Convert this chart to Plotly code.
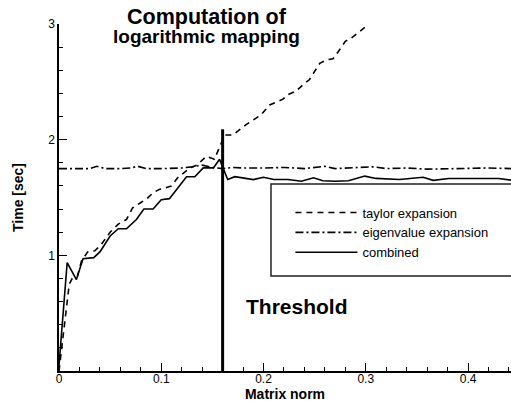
import plotly.graph_objects as go

# ---- data ----
taylor_x = [0, 0.010, 0.013, 0.018, 0.022, 0.028, 0.035, 0.041, 0.050, 0.058, 0.066, 0.072,
            0.079, 0.086, 0.092, 0.098, 0.103, 0.110, 0.116, 0.122, 0.128, 0.135, 0.144,
            0.152, 0.158, 0.162, 0.170, 0.178, 0.183, 0.190, 0.197, 0.206, 0.211, 0.219,
            0.224, 0.232, 0.238, 0.245, 0.250, 0.255, 0.262, 0.268, 0.273, 0.280, 0.286,
            0.292, 0.299]
taylor_y = [0.0, 0.75, 0.80, 0.82, 0.95, 1.03, 1.04, 1.09, 1.20, 1.27, 1.31, 1.41,
            1.45, 1.49, 1.54, 1.57, 1.58, 1.60, 1.67, 1.71, 1.756, 1.78, 1.856,
            1.83, 1.96, 2.04, 2.04, 2.10, 2.13, 2.17, 2.21, 2.30, 2.32, 2.35,
            2.39, 2.42, 2.47, 2.52, 2.59, 2.66, 2.69, 2.70, 2.76, 2.85, 2.88,
            2.92, 2.97]

eigen_x = [0, 0.010, 0.020, 0.030, 0.037, 0.045, 0.060, 0.070, 0.077, 0.085, 0.100, 0.110,
           0.120, 0.130, 0.140, 0.150, 0.160, 0.170, 0.180, 0.200, 0.220, 0.240, 0.260,
           0.270, 0.290, 0.307, 0.320, 0.340, 0.360, 0.380, 0.400, 0.420, 0.442]
eigen_y = [1.75, 1.75, 1.755, 1.75, 1.77, 1.75, 1.75, 1.755, 1.77, 1.75, 1.75, 1.75,
           1.755, 1.765, 1.78, 1.76, 1.75, 1.76, 1.755, 1.755, 1.76, 1.75, 1.77,
           1.75, 1.755, 1.765, 1.75, 1.755, 1.745, 1.75, 1.75, 1.755, 1.75]

comb_x = [0, 0.008, 0.017, 0.0235, 0.034, 0.040, 0.050, 0.058, 0.066, 0.0757, 0.083, 0.092,
          0.100, 0.108, 0.1247, 0.1328, 0.141, 0.151, 0.157, 0.160, 0.165, 0.172, 0.180,
          0.190, 0.200, 0.210, 0.224, 0.237, 0.249, 0.258, 0.270, 0.283, 0.299, 0.310,
          0.333, 0.356, 0.366, 0.381, 0.407, 0.430, 0.442]
comb_y = [0.05, 0.937, 0.79, 0.97, 0.98, 1.03, 1.167, 1.23, 1.23, 1.31, 1.40, 1.40,
          1.48, 1.49, 1.68, 1.68, 1.756, 1.756, 1.83, 1.77, 1.655, 1.68, 1.67,
          1.655, 1.675, 1.655, 1.655, 1.64, 1.67, 1.645, 1.64, 1.645, 1.685, 1.665,
          1.655, 1.675, 1.648, 1.664, 1.664, 1.664, 1.65]

threshold_x = [0.16, 0.16]
threshold_y = [0.0, 2.09]

series_names = ["taylor expansion", "eigenvalue expansion", "combined"]

FONT = "Liberation Sans, Arial, Helvetica, sans-serif"

fig = go.Figure()
fig.add_trace(go.Scatter(x=taylor_x, y=taylor_y, mode="lines", name=series_names[0],
                         line=dict(color="black", width=1.6, dash="6px,5px")))
fig.add_trace(go.Scatter(x=eigen_x, y=eigen_y, mode="lines", name=series_names[1],
                         line=dict(color="black", width=1.6, dash="8px,3px,2px,3px")))
fig.add_trace(go.Scatter(x=comb_x, y=comb_y, mode="lines", name=series_names[2],
                         line=dict(color="black", width=1.6)))
fig.add_trace(go.Scatter(x=threshold_x, y=threshold_y, mode="lines", showlegend=False,
                         line=dict(color="black", width=3), hoverinfo="skip"))

# legend frame
fig.add_shape(type="rect", xref="paper", yref="paper", x0=0.469, x1=1.05, y0=0.274, y1=0.539,
              line=dict(color="#222", width=1.5), fillcolor="rgba(0,0,0,0)", layer="below")

fig.add_annotation(text="<b>Computation of</b>", xref="paper", yref="paper", x=0.327, y=1.019,
                   xanchor="center", yanchor="middle", showarrow=False,
                   font=dict(family=FONT, size=21.5, color="black"))
fig.add_annotation(text="<b>logarithmic mapping</b>", xref="paper", yref="paper", x=0.327, y=0.964,
                   xanchor="center", yanchor="middle", showarrow=False,
                   font=dict(family=FONT, size=19, color="black"))
fig.add_annotation(text="<b>Threshold</b>", xref="x", yref="paper", x=0.1805, y=0.185,
                   xanchor="left", yanchor="middle", showarrow=False,
                   font=dict(family=FONT, size=21, color="black"))

fig.update_layout(
    width=511, height=403,
    margin=dict(l=59, r=0, t=24, b=32, autoexpand=False),
    paper_bgcolor="white", plot_bgcolor="white",
    font=dict(family=FONT, size=12, color="black"),
    showlegend=True,
    legend=dict(x=0.512, y=0.50, xanchor="left", yanchor="top",
                bgcolor="rgba(0,0,0,0)", borderwidth=0,
                font=dict(family=FONT, size=13, color="black"),
                itemwidth=62, tracegroupgap=0),
    xaxis=dict(range=[0, 0.442], dtick=0.1, tick0=0, ticks="inside", ticklen=8, tickwidth=1.2,
               tickcolor="black", showline=True, linecolor="black", linewidth=1.5,
               showgrid=False, zeroline=False, mirror=False, automargin=False,
               ticklabelstandoff=-4,
               minor=dict(dtick=0.02, tick0=0, ticks="inside", ticklen=4, tickcolor="black", tickwidth=1),
               tickfont=dict(size=12, family=FONT),
               title=dict(text="<b>Matrix norm</b>", font=dict(size=14, family=FONT), standoff=0)),
    yaxis=dict(range=[0, 3], tickmode="array", tickvals=[1, 2, 3], ticktext=["1", "2", "3"],
               ticks="inside", ticklen=8, tickwidth=1.2, tickcolor="black",
               showline=True, linecolor="black", linewidth=1.5,
               showgrid=False, zeroline=False, mirror=False, automargin=False,
               minor=dict(dtick=0.2, tick0=0, ticks="inside", ticklen=4, tickcolor="black", tickwidth=1),
               tickfont=dict(size=12, family=FONT),
               title=dict(text="<b>Time [sec]</b>", font=dict(size=14, family=FONT), standoff=21)),
)

fig.write_html("out.html", config={"displayModeBar": False},
               post_script="document.body.style.margin='0px';document.body.style.overflow='hidden';")
